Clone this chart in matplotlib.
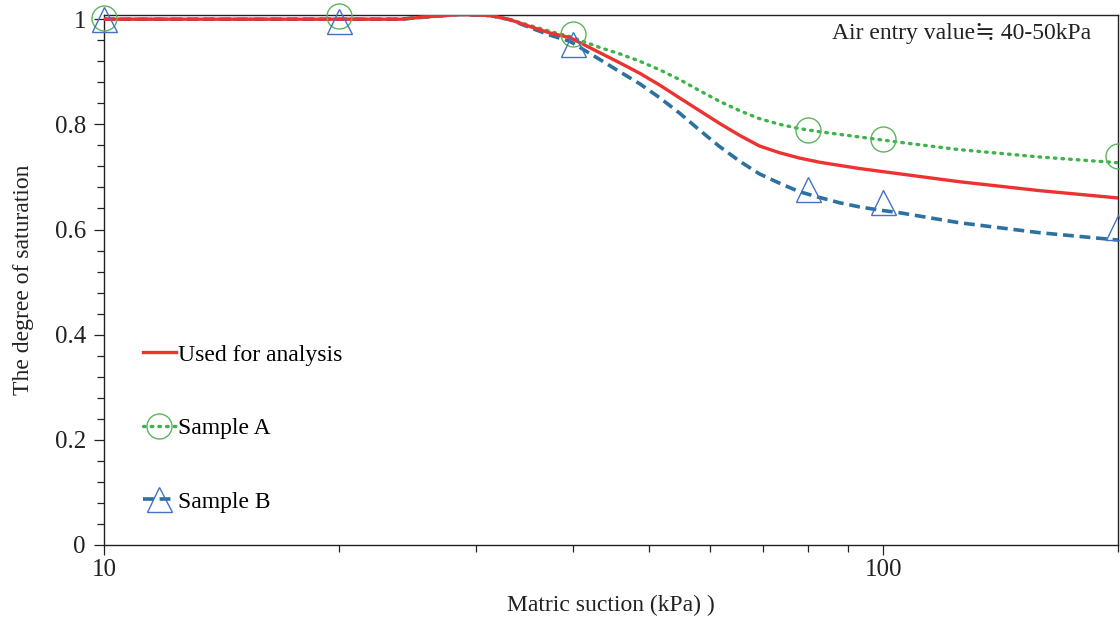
import numpy as np
import matplotlib
matplotlib.use("Agg")
import matplotlib.pyplot as plt
from matplotlib.ticker import FixedLocator, NullFormatter

plt.rcParams['font.family'] = ['Liberation Serif', 'DejaVu Serif', 'DejaVu Sans']

# measured points (matric suction in kPa, degree of saturation)
suction_a = [10, 20, 40, 80, 100, 200]
sat_a = [1.003, 1.006, 0.972, 0.790, 0.772, 0.740]

suction_b = [10, 20, 40, 80, 100, 200]
sat_b = [1.0, 0.996, 0.953, 0.677, 0.652, 0.605]

# fitted curves
curve_x = [10, 15, 20, 24, 26.2, 28.6, 31.3, 33.2, 35.2, 37.3, 39.6, 43.3, 45.9,
           48.7, 51.6, 54.8, 58.1, 61.6, 65.4, 69.3, 73.6, 78, 82.8, 87.8, 93.2,
           98.8, 104.8, 125, 158.5, 200]
curve_used = [1.0, 1.0, 1.0, 1.0, 1.005, 1.009, 1.007, 0.999, 0.986, 0.974, 0.965,
              0.936, 0.917, 0.897, 0.875, 0.850, 0.826, 0.802, 0.779, 0.759, 0.746,
              0.736, 0.728, 0.722, 0.716, 0.711, 0.706, 0.691, 0.674, 0.660]
curve_a = [1.0, 1.0, 1.0, 1.0, 1.005, 1.009, 1.007, 0.999, 0.988, 0.977, 0.967,
           0.946, 0.934, 0.920, 0.904, 0.885, 0.864, 0.844, 0.826, 0.811, 0.800,
           0.792, 0.786, 0.781, 0.776, 0.771, 0.766, 0.752, 0.738, 0.727]
curve_b = [1.0, 1.0, 1.0, 1.0, 1.005, 1.009, 1.007, 0.999, 0.984, 0.970, 0.958,
           0.923, 0.900, 0.877, 0.851, 0.821, 0.789, 0.758, 0.730, 0.706, 0.688,
           0.672, 0.661, 0.651, 0.643, 0.637, 0.632, 0.613, 0.594, 0.580]

RED = '#EE3131'
GREEN = '#3DB34A'
GREEN_EDGE = '#5CB55C'
BLUE = '#2B72A0'
BLUE_EDGE = '#4472C4'
INK = '#222222'
FS_TICK = 18
FS_TEXT = 17

fig = plt.figure(figsize=(11.2, 6.17), dpi=100)
ax = fig.add_axes([0.0929, 0.1167, 0.9053, 0.859])

dot_style = (0, (0.5, 1.8))
dash_style = (0, (3, 1.6))

ax.plot(curve_x, curve_used, color=RED, lw=2.4, zorder=4)
ax.plot(curve_x, curve_a, color=GREEN, lw=2.4, linestyle=dot_style,
        dash_capstyle='round', zorder=3)
ax.plot(curve_x, curve_b, color=BLUE, lw=2.6, linestyle=dash_style, zorder=3)

ax.plot(suction_a, sat_a, linestyle='none', marker='o', ms=18, mfc='none',
        mec=GREEN_EDGE, mew=1.0, clip_on=False, zorder=5)
ax.plot(suction_b, sat_b, linestyle='none', marker='^', ms=18, mfc='none',
        mec=BLUE_EDGE, mew=1.0, clip_on=False, zorder=5)

# legend handles combine line and marker
h_used, = ax.plot([], [], color=RED, lw=2.4)
h_a, = ax.plot([], [], color=GREEN, lw=2.4, linestyle=dot_style, dash_capstyle='round',
               marker='o', ms=18, mfc='none', mec=GREEN_EDGE, mew=1.0)
h_b, = ax.plot([], [], color=BLUE, lw=2.6, linestyle=dash_style,
               marker='^', ms=18, mfc='none', mec=BLUE_EDGE, mew=1.0)
ax.legend([h_used, h_a, h_b], ['Used for analysis', 'Sample A', 'Sample B'],
          loc='upper left', bbox_to_anchor=(0.029, 0.397), frameon=False,
          fontsize=FS_TEXT, labelspacing=2.2, handlelength=1.4, handletextpad=0.1,
          numpoints=1, borderaxespad=0)

ax.set_xscale('log')
ax.set_xlim(10, 200)
ax.set_ylim(0, 1.008)

ax.xaxis.set_major_locator(FixedLocator([10, 100]))
ax.xaxis.set_minor_locator(FixedLocator([20, 30, 40, 50, 60, 70, 80, 90, 200]))
ax.xaxis.set_minor_formatter(NullFormatter())
ax.set_xticklabels(['10', '100'])

ax.set_yticks([0, 0.2, 0.4, 0.6, 0.8, 1.0])
ax.set_yticklabels(['0', '0.2', '0.4', '0.6', '0.8', '1'])
ax.yaxis.set_minor_locator(FixedLocator(np.arange(0, 1.0, 0.04)))

ax.tick_params(which='major', direction='out', length=7, width=0.9, labelsize=FS_TICK,
               colors=INK)
ax.tick_params(axis='y', which='major', pad=6)
ax.tick_params(axis='x', which='major', pad=3)
ax.tick_params(which='minor', direction='out', length=5, width=0.9, colors=INK)

for sp in ax.spines.values():
    sp.set_color(INK)
    sp.set_linewidth(1.0)

ax.set_xlabel('Matric suction (kPa) )', fontsize=FS_TEXT, color=INK, labelpad=10)
ax.set_ylabel('The degree of saturation', fontsize=FS_TEXT, color=INK, labelpad=15)

ax.text(0.974, 0.966, 'Air entry value\u2252 40-50kPa', transform=ax.transAxes,
        ha='right', va='center', fontsize=FS_TEXT, color=INK)

fig.savefig('out.png', dpi=100)
